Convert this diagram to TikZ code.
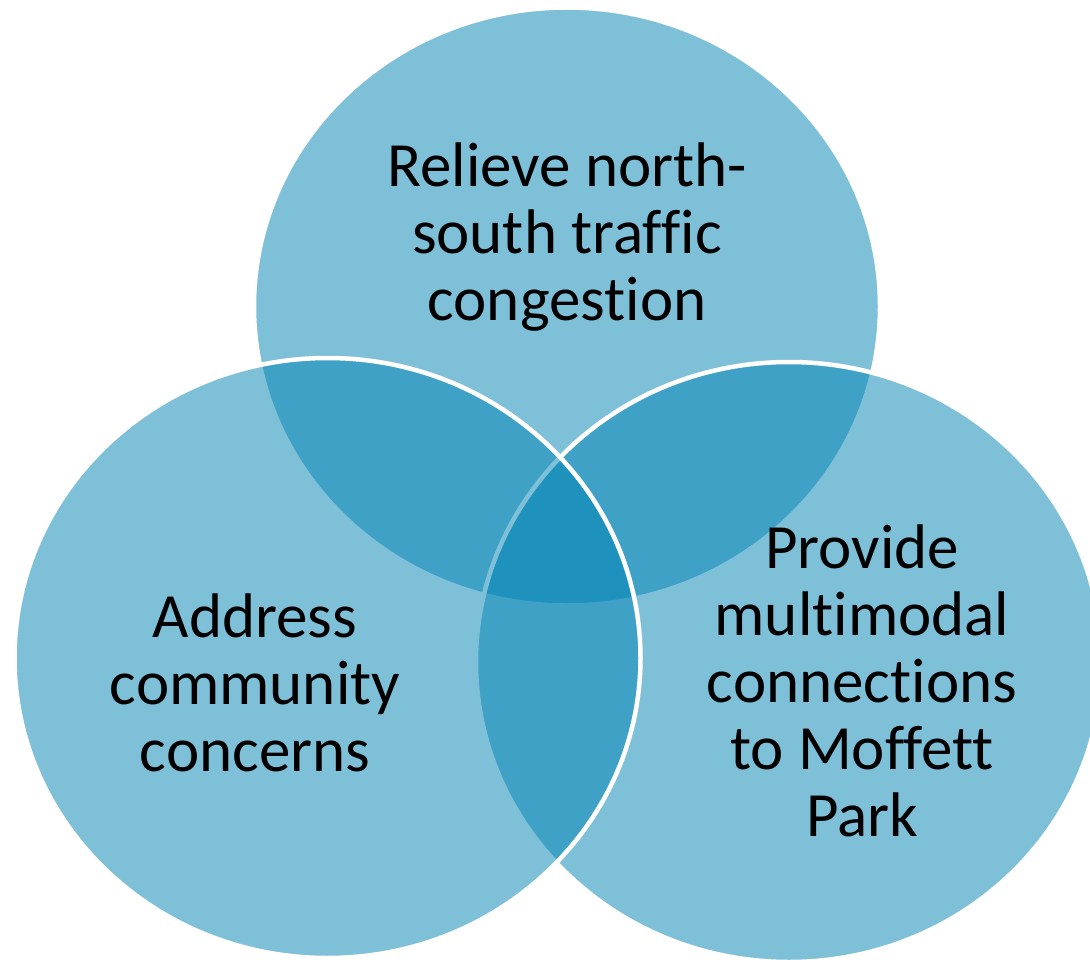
\documentclass[tikz,border=0pt]{standalone}
\usepackage{fontspec}
\setmainfont[Ligatures=NoCommon]{Carlito}
\definecolor{vennblue}{RGB}{0,131,181}
\tikzset{
  venn/.style={fill=vennblue, fill opacity=0.5, draw=white, line width=4.5pt},
  vlabel/.style={align=center, font=\fontsize{63}{67}\selectfont, text=black, inner sep=0pt}
}
\begin{document}
\begin{tikzpicture}[x=1pt,y=-1pt]
\useasboundingbox (0,0) rectangle (1090,960);
\clip (0,0) rectangle (1090,960);
\fill[white] (0,0) rectangle (1090,960);
\draw[venn] (567,306.5) ellipse [x radius=313pt, y radius=299pt];
\draw[venn] (789,662) ellipse [x radius=313pt, y radius=300pt];
\draw[venn] (327.5,658) ellipse [x radius=313pt, y radius=300pt];
\node[vlabel] (top) at (567,237) {Relieve north-\\south traffic\\congestion};
\node[vlabel] (left) at (255,683) {Address\\community\\concerns};
\node[vlabel] (right) at (862,681) {Provide\\multimodal\\connections\\to Moffett\\Park};
\end{tikzpicture}
\end{document}
